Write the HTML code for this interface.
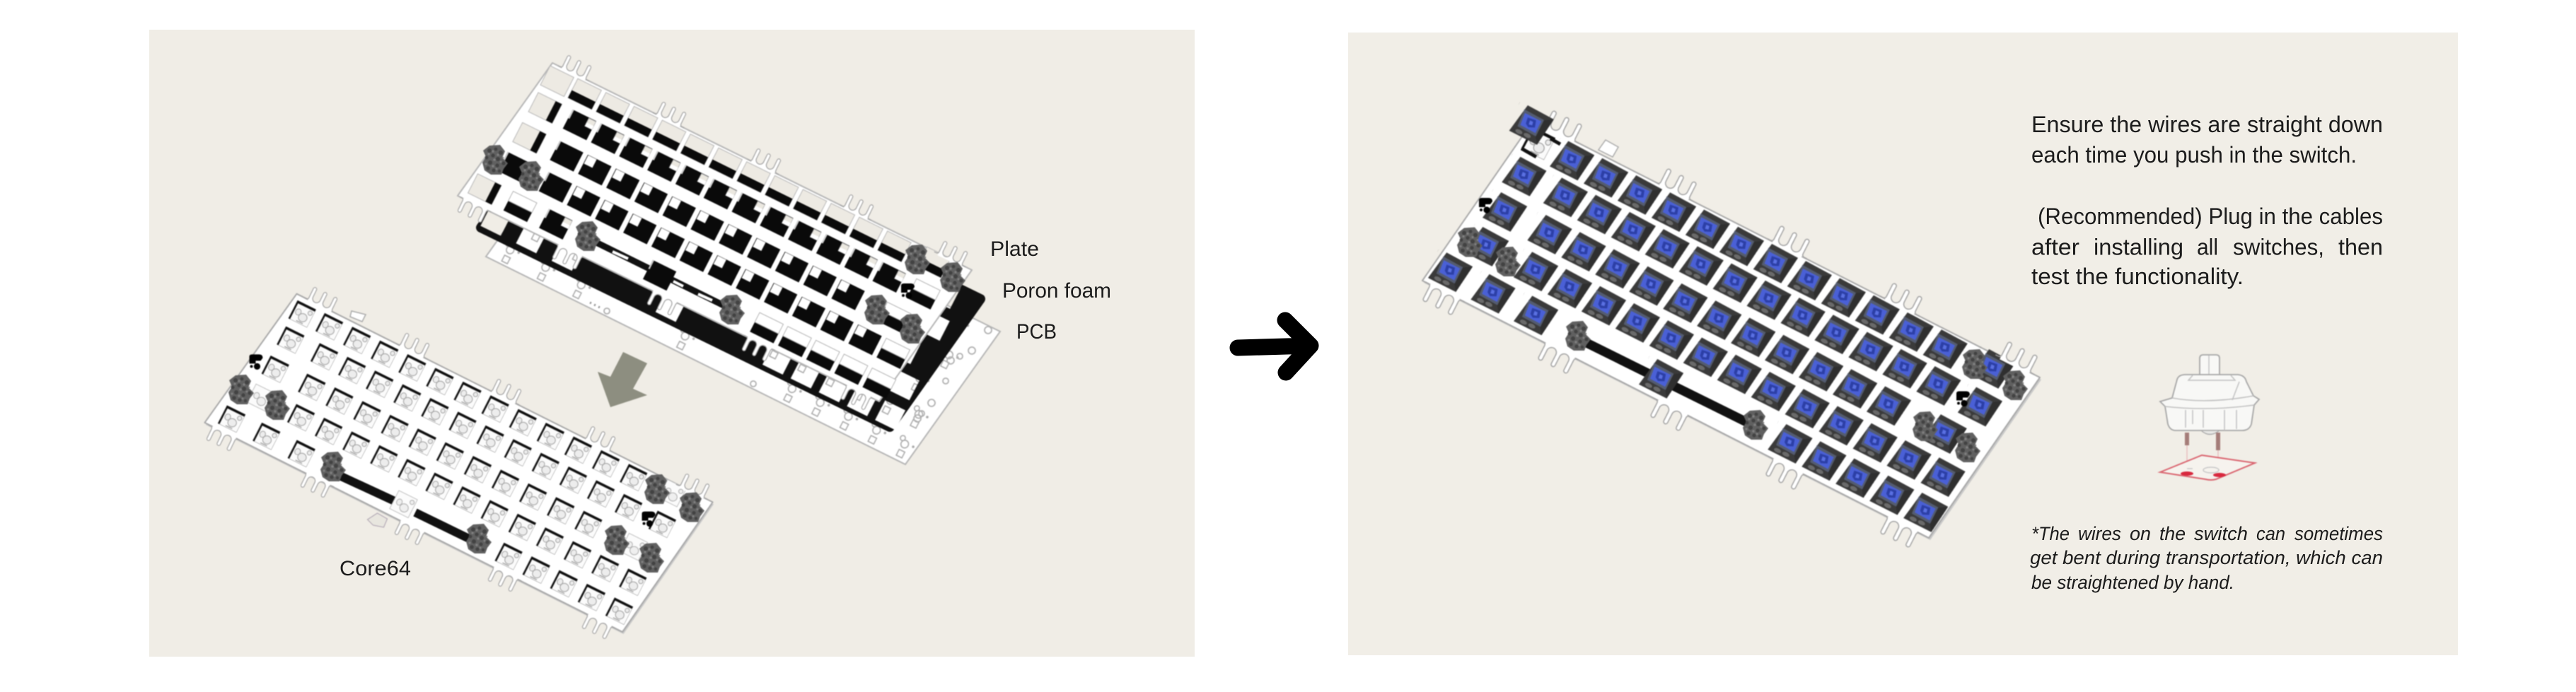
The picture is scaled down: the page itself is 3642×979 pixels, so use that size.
<!DOCTYPE html>
<html lang="en"><head><meta charset="utf-8"><title>Core64 assembly</title>
<style>html,body{margin:0;padding:0;background:#fff;width:3642px;height:979px;overflow:hidden}svg{display:block}text{font-family:"Liberation Sans",sans-serif;fill:#1c1c1c}</style></head>
<body>
<svg xmlns="http://www.w3.org/2000/svg" width="3642" height="979" viewBox="0 0 3642 979">
<defs>
<g id="lay">
<rect transform="translate(-.5 -.5)" width="12" height="1"/>
<rect transform="translate(11.85 -.6)" width="1" height="1"/>
<rect transform="translate(-1.42 .42)" width="1" height="1"/>
<rect transform="translate(-.2 .42)" width="12" height="1"/>
<rect transform="translate(12.02 .42)" width="1" height="1"/>
<rect transform="translate(-1.43 1.46)" width="1" height="1"/>
<rect transform="translate(-.11 1.46)" width="11" height="1"/>
<rect transform="translate(11.53 1.46)" width="1" height="1"/>
<rect transform="translate(-1.43 2.47)" width="1" height="1"/>
<rect transform="translate(.026 2.47)" width="13" height="1"/>
<rect transform="translate(-1.955 3.48)" width="1" height="1"/>
<rect transform="translate(-.695 3.48)" width="1" height="1"/>
<rect transform="translate(.57 3.48)" width="1" height="1"/>
<rect transform="translate(4.26 3.48)" width="1" height="1"/>
<rect transform="translate(8.06 3.48)" width="5" height="1"/>
</g>
<pattern id="pKey" width="1" height="1" patternUnits="userSpaceOnUse">
<path d="M.22 .12L1 .14L.92 .92L.1 .92Z" fill="#3a3a3a"/>
<path d="M.78 .28L1 .14L.92 .92L.78 .74Z" fill="#2f2f2f"/>
<path d="M.19 .25L.78 .27L.79 .74L.24 .72Z" fill="#545c70"/>
<path d="M.25 .33L.73 .33L.74 .67L.29 .66Z" fill="#4a60d6"/>
<path d="M.37 .4L.6 .37L.66 .55L.5 .62L.4 .56Z" fill="#2c3fa6"/>
<path d="M.46 .44L.55 .44L.57 .53L.48 .55Z" fill="#5a70e2"/>
<ellipse cx=".34" cy=".83" rx=".1" ry=".055" fill="#6a6a6a"/>
<ellipse cx=".58" cy=".82" rx=".1" ry=".055" fill="#6a6a6a"/>
</pattern>
<pattern id="pWell" width="1" height="1" patternUnits="userSpaceOnUse">
<rect x=".165" y=".18" width=".67" height=".64" fill="#0e0e0e"/>
<rect x=".225" y=".26" width=".605" height=".555" fill="#fbfbfb"/>
<g fill="#ededed" stroke="#a0a0a0" stroke-width=".024">
<ellipse cx=".57" cy=".6" rx=".14" ry=".13"/>
<ellipse cx=".36" cy=".5" rx=".09" ry=".1"/>
<ellipse cx=".72" cy=".37" rx=".07" ry=".07"/>
</g>
<path d="M.42 .77L.66 .77" stroke="#a0a0a0" stroke-width=".03"/>
</pattern>
<pattern id="pStab" width="1" height="1" patternUnits="userSpaceOnUse">
<rect x=".165" y=".18" width=".67" height=".64" fill="#fbfbfb" stroke="#bdbdbd" stroke-width=".02"/>
<g fill="#efefef" stroke="#a8a8a8" stroke-width=".022">
<ellipse cx=".57" cy=".6" rx=".14" ry=".13"/>
<ellipse cx=".35" cy=".5" rx=".09" ry=".1"/>
<ellipse cx=".72" cy=".33" rx=".07" ry=".07"/>
</g>
</pattern>
<!-- plate well looks -->
<pattern id="pBeige" width="1" height="1" patternUnits="userSpaceOnUse">
<rect x=".08" y=".17" width=".84" height=".66" fill="#edeae3" stroke="#b5b5b5" stroke-width=".022"/>
</pattern>
<pattern id="pA" width="1" height="1" patternUnits="userSpaceOnUse">
<rect x=".08" y=".17" width=".84" height=".66" fill="#edeae3" stroke="#b5b5b5" stroke-width=".022"/>
<rect x=".08" y=".57" width=".84" height=".26" fill="#0a0a0a"/>
</pattern>
<pattern id="pL" width="1" height="1" patternUnits="userSpaceOnUse">
<rect x=".08" y=".17" width=".84" height=".66" fill="#edeae3" stroke="#b5b5b5" stroke-width=".022"/>
<rect x=".7" y=".17" width=".22" height=".66" fill="#0a0a0a"/>
</pattern>
<pattern id="pFull" width="1" height="1" patternUnits="userSpaceOnUse">
<rect x=".08" y=".17" width=".84" height=".66" fill="#0a0a0a"/>
<rect x=".08" y=".17" width=".05" height=".3" fill="#cfcfcf"/>
</pattern>
<pattern id="pB" width="1" height="1" patternUnits="userSpaceOnUse">
<rect x=".08" y=".17" width=".84" height=".66" fill="#0a0a0a"/>
<rect x=".08" y=".17" width=".05" height=".3" fill="#d8d8d8"/>
<rect x=".67" y=".19" width=".25" height=".27" fill="#ebe8e0" stroke="#b5b5b5" stroke-width=".02"/>
<rect x=".67" y=".34" width=".25" height=".12" fill="#fff"/>
</pattern>
<pattern id="pC" width="1" height="1" patternUnits="userSpaceOnUse">
<rect x=".08" y=".17" width=".84" height=".66" fill="#0a0a0a"/>
<rect x=".1" y=".18" width=".3" height=".29" fill="#fff"/>
</pattern>
<pattern id="pE" width="1" height="1" patternUnits="userSpaceOnUse">
<rect x=".08" y=".17" width=".84" height=".66" fill="#0a0a0a"/>
<rect x=".08" y=".17" width=".84" height=".33" fill="#fff" stroke="#a9a9a9" stroke-width=".02"/>
</pattern>
<pattern id="pFoamHole" width="1" height="1" patternUnits="userSpaceOnUse">
<rect x=".14" y=".16" width=".72" height=".68" fill="#000"/>
</pattern>
<pattern id="pMark" width="1" height="1" patternUnits="userSpaceOnUse">
<g fill="none" stroke="#a9a9a9" stroke-width=".035">
<circle cx=".36" cy=".26" r=".08"/><circle cx=".5" cy=".4" r=".12"/>
<rect x=".42" y=".62" width=".2" height=".2"/>
</g>
<circle cx=".78" cy=".36" r=".04" fill="#aaa"/>
</pattern>
<g id="tab">
<rect x="-23" y="-2" width="46" height="5" fill="#fff"/>
<path d="M-31 0L-27 0Q-23 0 -23 -4V-22A3 3 0 0 1 -17 -22V-8A7 7 0 0 0 -3 -8V-22A3 3 0 0 1 3 -22V-8A7 7 0 0 0 17 -8V-22A3 3 0 0 1 23 -22V-4Q23 0 27 0L31 0" fill="#fff" stroke="#a2a2a2" stroke-width="1.5"/>
</g>
<g id="blob">
<path d="M-8-20L7-21L14-12L10-3L18 5L12 13L9 21L-6 21L-15 15L-18 4L-13-4L-17-13Z" fill="#606060"/>
<g fill="#424242"><circle cx="-8" cy="-13" r="3"/><circle cx="1" cy="-15" r="2.4"/><circle cx="8" cy="-10" r="3"/><circle cx="-3" cy="-6" r="2.6"/><circle cx="-12" cy="-3" r="2.4"/><circle cx="4" cy="-1" r="3"/><circle cx="12" cy="5" r="2.6"/><circle cx="-7" cy="4" r="3"/><circle cx="3" cy="8" r="2.6"/><circle cx="-10" cy="12" r="2.8"/><circle cx="-2" cy="15" r="2.6"/><circle cx="6" cy="16" r="2.2"/></g>
<g fill="#808080"><circle cx="-3" cy="-12" r="1.7"/><circle cx="4" cy="-7" r="1.6"/><circle cx="-9" cy="-8" r="1.6"/><circle cx="-1" cy="0" r="1.8"/><circle cx="8" cy="3" r="1.5"/><circle cx="-13" cy="6" r="1.6"/><circle cx="-3" cy="9" r="1.7"/><circle cx="2" cy="13" r="1.5"/><circle cx="11" cy="-3" r="1.3"/></g>
</g>
<g id="clip"><path d="M-9-7Q-9-10 -5-10H5Q10-10 10-5L7-1H0V3H-9Z" fill="#000"/><circle cx="2" cy="7" r="4.6" fill="#000"/><circle cx="-6" cy="7" r="2" fill="#000"/></g>
<mask id="mFoam" maskUnits="userSpaceOnUse" x="0" y="0" width="3642" height="979">
<rect width="3642" height="979" fill="#fff"/>
<g transform="matrix(39.8 19.6 -21 41 842.3 178)"><use href="#lay" fill="url(#pFoamHole)"/></g>
</mask>
</defs>

<rect x="211" y="42" width="1478" height="887" fill="#f0ede6"/>
<rect x="1906" y="46" width="1569" height="881" fill="#f1eee7"/>

<g style="filter:blur(.8px)">
<!-- PCB -->
<path d="M821 175L1414 469L1280 657L687 363Z" fill="#fff" stroke="#b5b5b5" stroke-width="2"/>
<g transform="matrix(39.8 19.6 -21 41 860.7 223)"><use href="#lay" fill="url(#pMark)"/></g>
<g fill="none" stroke="#b0b0b0" stroke-width="1.8">
<circle cx="1397" cy="467" r="5"/><circle cx="1374" cy="496" r="5"/><circle cx="1357" cy="504" r="4"/><circle cx="1344" cy="510" r="5"/><circle cx="1337" cy="539" r="4"/><circle cx="1317" cy="570" r="5"/><circle cx="1303" cy="585" r="4"/><circle cx="1297" cy="592" r="5"/><circle cx="1065" cy="543" r="4"/><circle cx="858" cy="440" r="4"/><path d="M834 428l2 1M840 431l2 1M846 434l2 1" stroke="#999" stroke-width="3"/>
</g>
<!-- foam -->
<g mask="url(#mFoam)">
<path d="M680 322L1258 604L1386 423L808 141Z" fill="#111" stroke="#111" stroke-width="14" stroke-linejoin="round"/>
</g>
<!-- plate -->
<path d="M781 89L1374 382L1243 568L647 277Z" fill="#fff" stroke="#b5b5b5" stroke-width="2" stroke-linejoin="round"/>
<path d="M843 343L1025 433" stroke="#111" stroke-width="9"/>
<g transform="matrix(39.8 19.6 -21 41 826.7 133)">
<rect transform="translate(-1.47 -.48)" width="1" height="1" fill="url(#pBeige)"/>
<rect transform="translate(-.5 -.5)" width="12" height="1" fill="url(#pA)"/>
<rect transform="translate(11.85 -.6)" width="1" height="1" fill="url(#pA)"/>
<rect transform="translate(-1.42 .42)" width="1" height="1" fill="url(#pL)"/>
<rect transform="translate(-.2 .42)" width="12" height="1" fill="url(#pB)"/>
<rect transform="translate(12.02 .42)" width="1" height="1" fill="url(#pE)"/>
<rect transform="translate(-1.43 1.46)" width="1" height="1" fill="url(#pL)"/>
<rect transform="translate(-.11 1.46)" width="1" height="1" fill="url(#pFull)"/>
<rect transform="translate(.89 1.46)" width="10" height="1" fill="url(#pC)"/>
<rect transform="translate(11.53 1.46)" width="1" height="1" fill="url(#pE)"/>
<rect transform="translate(-1.43 2.47)" width="1" height="1" fill="url(#pFull)"/>
<rect transform="translate(.026 2.47)" width="1" height="1" fill="url(#pFull)"/>
<rect transform="translate(1.026 2.47)" width="11" height="1" fill="url(#pC)"/>
<rect transform="translate(12.026 2.47)" width="1" height="1" fill="url(#pE)"/>
<rect transform="translate(-1.955 3.48)" width="1" height="1" fill="url(#pL)"/>
<rect transform="translate(-.695 3.48)" width="1" height="1" fill="url(#pE)"/>
<rect transform="translate(.57 3.48)" width="1" height="1" fill="url(#pB)"/>
<rect transform="translate(4.26 3.48)" width="1" height="1" fill="url(#pFull)"/>
<rect transform="translate(8.06 3.48)" width="5" height="1" fill="url(#pE)"/>
</g>
<path d="M866 356L888 366M952 398L966 405M987 416L1007 425" stroke="#fff" stroke-width="4"/>
<g>
<use href="#tab" transform="translate(811 104) rotate(26) scale(.8)"/>
<use href="#tab" transform="translate(945 170) rotate(26) scale(.8)"/>
<use href="#tab" transform="translate(1079 236) rotate(26) scale(.8)"/>
<use href="#tab" transform="translate(1210 301) rotate(26) scale(.8)"/>
<use href="#tab" transform="translate(1343 367) rotate(26) scale(.8)"/>
<use href="#tab" transform="translate(672 289) rotate(206) scale(.8)"/>
<use href="#tab" transform="translate(806 355) rotate(206) scale(.8)"/>
<use href="#tab" transform="translate(940 420) rotate(206) scale(.8)"/>
<use href="#tab" transform="translate(1074 485) rotate(206) scale(.8)"/>
<use href="#tab" transform="translate(1214 554) rotate(206) scale(.8)"/>
</g>
<use href="#blob" transform="translate(700 226)"/><use href="#blob" transform="translate(751 249)"/>
<use href="#blob" transform="translate(831 334)"/><use href="#blob" transform="translate(1035 438)"/>
<use href="#blob" transform="translate(1297 367)"/><use href="#blob" transform="translate(1347 392)"/>
<use href="#blob" transform="translate(1240 438)"/><use href="#blob" transform="translate(1290 465)"/>
<use href="#clip" transform="translate(1283 411)"/>

<!-- big arrow -->
<path d="M881 498L915 514L895 550L915 559L863 576L845 526L863 533Z" fill="#8d8e80"/>

<!-- Core64 -->
<path d="M497 440L517 445L512 455L495 448Z" fill="#fff" stroke="#aaa" stroke-width="1.5"/>
<path d="M290.900 601L881.500 897L1009 713.400L421 418.700Z" fill="#c9c9c9"/>
<path d="M519.5 735l14 -9 14 8 -5 12 -15 -3Z" fill="#e8e6df" stroke="#b3a9b5" stroke-width="1.2"/>
<path d="M419.500 415.700L1007.600 710.400L880 894L289.400 597.900Z" fill="#fff" stroke="#a8a8a8" stroke-width="2" stroke-linejoin="round"/>
<path d="M476 671L558 709M587 725L663 762" stroke="#111" stroke-width="12"/>
<g transform="matrix(39.1 19.4 -20.4 39.9 465.6 462.1)">
<use href="#lay" fill="url(#pWell)"/>
<rect transform="translate(-1.47 -.48)" width="1" height="1" fill="url(#pWell)"/>
<rect transform="translate(11.85 -.6)" width="1" height="1" fill="url(#pStab)"/>
<rect transform="translate(11.53 1.46)" width="1" height="1" fill="url(#pStab)"/>
<rect transform="translate(-1.43 2.47)" width="1" height="1" fill="url(#pStab)"/>
<rect transform="translate(4.26 3.48)" width="1" height="1" fill="url(#pStab)"/>
</g>
<use href="#tab" transform="translate(452 432) rotate(26) scale(.8)"/>
<use href="#tab" transform="translate(582 497) rotate(26) scale(.8)"/>
<use href="#tab" transform="translate(712 562) rotate(26) scale(.8)"/>
<use href="#tab" transform="translate(845 629) rotate(26) scale(.8)"/>
<use href="#tab" transform="translate(978 696) rotate(26) scale(.8)"/>
<use href="#tab" transform="translate(317 612) rotate(206) scale(.8)"/>
<use href="#tab" transform="translate(450 678) rotate(206) scale(.8)"/>
<use href="#tab" transform="translate(583 745) rotate(206) scale(.8)"/>
<use href="#tab" transform="translate(715 811) rotate(206) scale(.8)"/>
<use href="#tab" transform="translate(848 878) rotate(206) scale(.8)"/>
<use href="#blob" transform="translate(341 551)"/><use href="#blob" transform="translate(392 573)"/>
<use href="#blob" transform="translate(471 660)"/><use href="#blob" transform="translate(677 762)"/>
<use href="#blob" transform="translate(929 692)"/><use href="#blob" transform="translate(978 717.5)"/>
<use href="#blob" transform="translate(872 764)"/><use href="#blob" transform="translate(921 789)"/>
<use href="#clip" transform="translate(361.5 511.4)"/><use href="#clip" transform="translate(916.5 733.6)"/>

<!-- Right keyboard -->
<path d="M2270 198L2288 208L2280 222L2260 212Z" fill="#fff" stroke="#aaa" stroke-width="1.5"/>
<path d="M2013 400L2729 764L2886 537L2170 173Z" fill="#c9c9c9"/>
<path d="M2168 170L2884 534L2727 761L2011 397Z" fill="#fff" stroke="#a8a8a8" stroke-width="2" stroke-linejoin="round"/>
<path d="M2240 483.5L2473 599" stroke="#111" stroke-width="13"/>
<g transform="matrix(47.96 24.24 -25.7 48.5 2221 224.7)">
<rect transform="translate(-1.45 -.48)" width="1" height="1" fill="url(#pWell)"/>
<use href="#lay" fill="url(#pKey)"/>
</g>
<use href="#tab" transform="translate(2205 189) rotate(27)"/>
<use href="#tab" transform="translate(2367 271) rotate(27)"/>
<use href="#tab" transform="translate(2527 352) rotate(27)"/>
<use href="#tab" transform="translate(2686 433) rotate(27)"/>
<use href="#tab" transform="translate(2849 516) rotate(27)"/>
<use href="#tab" transform="translate(2043 413) rotate(207)"/>
<use href="#tab" transform="translate(2206 496) rotate(207)"/>
<use href="#tab" transform="translate(2365 577) rotate(207)"/>
<use href="#tab" transform="translate(2528 660) rotate(207)"/>
<use href="#tab" transform="translate(2690 742) rotate(207)"/>
<use href="#blob" transform="translate(2078 342.5)"/><use href="#blob" transform="translate(2132 370)"/>
<use href="#blob" transform="translate(2231 475)"/><use href="#blob" transform="translate(2482 601)"/>
<use href="#blob" transform="translate(2792 515)"/><use href="#blob" transform="translate(2849 545)"/>
<use href="#blob" transform="translate(2722 603)"/><use href="#blob" transform="translate(2782 633)"/>
<use href="#clip" transform="translate(2100 290)"/><use href="#clip" transform="translate(2775 563.5)"/>
<path d="M2151 210L2172 222M2192 196L2206 204" stroke="#111" stroke-width="5"/>
<g transform="matrix(47.96 24.24 -25.7 48.5 2221 224.7)">
<rect transform="translate(-1.884 -.85)" width="1" height="1" fill="url(#pKey)"/>
</g>

<!-- switch illustration -->
<path d="M3110 532V507Q3110 502 3115 502H3133Q3138 502 3138 507V532" fill="#f8f8f6" stroke="#a5a5a5" stroke-width="1.8"/>
<path d="M3123 503V530" stroke="#c4c4c4" stroke-width="1.5"/>
<path d="M3071 563L3078 537Q3080 530 3090 530H3164Q3174 531 3176 540L3186 560L3194 565L3187 573L3183 600Q3180 609 3170 609H3076Q3068 609 3065 600L3061 575L3054 568Z" fill="#f8f8f6" stroke="#a5a5a5" stroke-width="1.8"/>
<path d="M3071 563Q3120 572 3186 560M3100 531L3094 538H3160L3154 531M3061 575Q3120 582 3187 573M3090 580V605M3100 580V600M3115 580V605M3145 580V609M3162 580V607M3166 540L3156 566" fill="none" stroke="#c0c0c0" stroke-width="1.5"/>
<path d="M3112 609Q3124 620 3138 609Z" fill="#e8e8e6" stroke="#aaa" stroke-width="1.4"/>
<path d="M3092 612V630M3136 612V637" stroke="#a47c78" stroke-width="6"/>
<path d="M3092 630V668M3136 637V672" stroke="#e7b9bb" stroke-width="1.3"/>
<path d="M3054 668L3113 644L3188 655L3133 678Q3126 680 3118 678Z" fill="#f6f3ee" stroke="#d9636e" stroke-width="2"/>
<ellipse cx="3092" cy="670" rx="9" ry="3" fill="#d8283e"/>
<ellipse cx="3138" cy="672" rx="9" ry="3" fill="#d8283e"/>
<ellipse cx="3126" cy="665" rx="11" ry="4" fill="none" stroke="#c8c8c8" stroke-width="1.5"/>
<path d="M3092 663h8" stroke="#c8c8c8" stroke-width="1.5"/>
</g>

<path d="M1750 492L1853 489M1817 453L1853 489L1818 527" fill="none" stroke="#000" stroke-width="23" stroke-linecap="round" stroke-linejoin="round"/>

<g style="filter:blur(.35px)">
<text x="1400" y="362" font-size="30" textLength="69" lengthAdjust="spacingAndGlyphs">Plate</text>
<text x="1417" y="421" font-size="30" textLength="154" lengthAdjust="spacingAndGlyphs">Poron foam</text>
<text x="1437" y="479" font-size="30" textLength="57" lengthAdjust="spacingAndGlyphs">PCB</text>
<text x="480" y="814" font-size="30" textLength="101" lengthAdjust="spacingAndGlyphs">Core64</text>

<g font-size="32">
<text x="2872" y="187" textLength="497" lengthAdjust="spacingAndGlyphs">Ensure the wires are straight down</text>
<text x="2872" y="230" textLength="460" lengthAdjust="spacingAndGlyphs">each time you push in the switch.</text>
<text x="2881" y="317" textLength="488" lengthAdjust="spacingAndGlyphs">(Recommended) Plug in the cables</text>
<text x="2872" y="360.5" textLength="68" lengthAdjust="spacingAndGlyphs">after</text>
<text x="2960" y="360.5" textLength="127" lengthAdjust="spacingAndGlyphs">installing</text>
<text x="3106" y="360.5" textLength="30" lengthAdjust="spacingAndGlyphs">all</text>
<text x="3157" y="360.5" textLength="129" lengthAdjust="spacingAndGlyphs">switches,</text>
<text x="3306" y="360.5" textLength="63" lengthAdjust="spacingAndGlyphs">then</text>
<text x="2872" y="402" textLength="300" lengthAdjust="spacingAndGlyphs">test the functionality.</text>
</g>
<g font-size="27" font-style="italic">
<text x="2872" y="764" textLength="54" lengthAdjust="spacingAndGlyphs">*The</text>
<text x="2938" y="764" textLength="61" lengthAdjust="spacingAndGlyphs">wires</text>
<text x="3011" y="764" textLength="30" lengthAdjust="spacingAndGlyphs">on</text>
<text x="3053" y="764" textLength="37" lengthAdjust="spacingAndGlyphs">the</text>
<text x="3102" y="764" textLength="76" lengthAdjust="spacingAndGlyphs">switch</text>
<text x="3190" y="764" textLength="41" lengthAdjust="spacingAndGlyphs">can</text>
<text x="3244" y="764" textLength="125" lengthAdjust="spacingAndGlyphs">sometimes</text>
<text x="2870" y="798" textLength="499" lengthAdjust="spacingAndGlyphs">get bent during transportation, which can</text>
<text x="2872" y="833" textLength="287" lengthAdjust="spacingAndGlyphs">be straightened by hand.</text>
</g>
</g>
</svg>
</body></html>
